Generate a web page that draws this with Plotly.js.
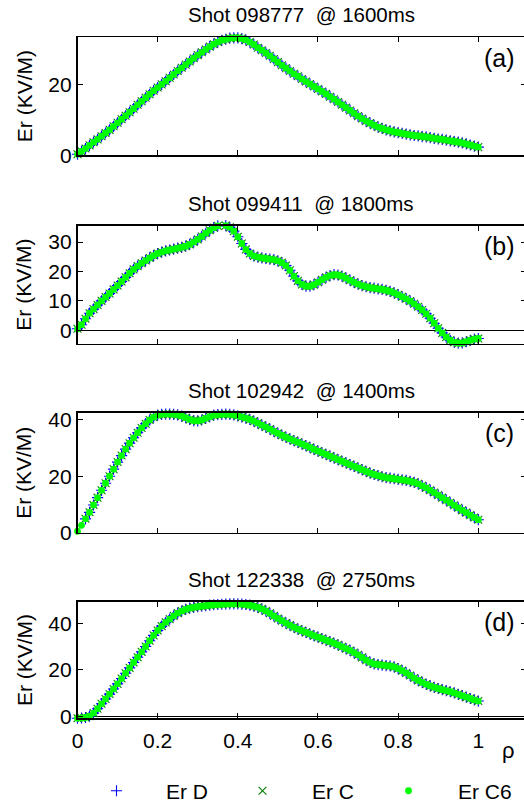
<!DOCTYPE html>
<html><head><meta charset="utf-8">
<script src="https://cdn.plot.ly/plotly-3.0.1.min.js"></script>
<style>html,body{margin:0;padding:0;overflow:hidden;background:#fff}</style>
</head><body><div id="chart"></div>
<script>
// ---- data ----
const rho = [0,0.01,0.02,0.03,0.04,0.05,0.06,0.07,0.08,0.09,
  0.10,0.11,0.12,0.13,0.14,0.15,0.16,0.17,0.18,0.19,
  0.20,0.21,0.22,0.23,0.24,0.25,0.26,0.27,0.28,0.29,
  0.30,0.31,0.32,0.33,0.34,0.35,0.36,0.37,0.38,0.39,
  0.40,0.41,0.42,0.43,0.44,0.45,0.46,0.47,0.48,0.49,
  0.50,0.51,0.52,0.53,0.54,0.55,0.56,0.57,0.58,0.59,
  0.60,0.61,0.62,0.63,0.64,0.65,0.66,0.67,0.68,0.69,
  0.70,0.71,0.72,0.73,0.74,0.75,0.76,0.77,0.78,0.79,
  0.80,0.81,0.82,0.83,0.84,0.85,0.86,0.87,0.88,0.89,
  0.90,0.91,0.92,0.93,0.94,0.95,0.96,0.97,0.98,0.99,1.00];

const er098777 = [0.3,1.1,1.9,2.8,3.7,4.5,5.4,6.3,7.2,8.2,
  9.2,10.2,11.2,12.2,13.2,14.3,15.3,16.3,17.3,18.3,
  19.2,20.1,21.0,22.0,22.9,23.9,24.8,25.7,26.6,27.5,
  28.4,29.2,30.0,30.8,31.5,32.1,32.6,32.9,33.2,33.3,
  33.3,33.1,32.7,32.1,31.4,30.5,29.8,29.0,28.2,27.3,
  26.4,25.5,24.7,23.9,23.1,22.4,21.6,20.9,20.2,19.5,
  18.8,18.1,17.4,16.6,15.9,15.1,14.3,13.5,12.7,11.9,
  11.1,10.4,9.7,9.1,8.5,8.0,7.6,7.2,6.9,6.6,
  6.4,6.2,6.0,5.8,5.6,5.5,5.3,5.2,5.0,4.8,
  4.6,4.5,4.3,4.1,3.9,3.7,3.5,3.2,2.9,2.6,2.3];

const er099411 = [0.5,1.9,3.9,5.8,7.2,8.6,10.0,11.3,12.5,13.9,
  15.2,16.6,18.0,19.4,20.7,21.8,22.8,23.7,24.6,25.4,
  26.1,26.6,27.0,27.3,27.6,27.9,28.2,28.6,29.2,30.0,
  30.9,31.9,33.0,34.0,34.9,35.5,35.8,35.6,35.0,33.7,
  31.8,29.5,27.5,26.1,25.3,24.9,24.6,24.4,24.2,24.0,
  23.6,23.0,22.0,20.4,18.4,16.8,15.6,15.0,15.0,15.5,
  16.3,17.2,18.0,18.6,18.9,18.8,18.4,17.7,17.0,16.3,
  15.7,15.2,14.8,14.5,14.3,14.1,13.9,13.6,13.2,12.7,
  12.1,11.4,10.7,9.9,9.0,8.0,6.9,5.6,4.1,2.4,
  0.7,-0.9,-2.3,-3.4,-4.1,-4.4,-4.3,-3.9,-3.4,-3.0,-2.8];

const er102942 = [0.5,2.6,4.9,7.2,9.8,12.4,15.0,17.5,20.0,22.5,
  25.0,27.3,29.6,31.7,33.6,35.4,37.1,38.6,39.9,40.9,
  41.6,41.9,42.0,42.0,41.9,41.7,41.3,40.7,40.1,39.7,
  39.6,39.9,40.5,41.1,41.6,41.8,41.9,42.0,41.9,41.7,
  41.4,41.0,40.6,40.1,39.5,38.8,38.1,37.4,36.7,35.9,
  35.2,34.5,33.8,33.2,32.6,32.0,31.4,30.8,30.2,29.5,
  28.9,28.3,27.7,27.1,26.5,25.9,25.3,24.7,24.1,23.5,
  22.9,22.3,21.7,21.1,20.6,20.2,19.8,19.5,19.3,19.1,
  18.9,18.7,18.5,18.2,17.8,17.3,16.6,15.9,15.0,14.2,
  13.3,12.4,11.5,10.6,9.7,8.8,7.9,7.1,6.2,5.4,4.6];

const er122338 = [-0.8,-0.7,-0.5,0.1,1.4,3.3,5.4,7.5,9.6,11.8,
  14.0,16.3,18.6,20.9,23.2,25.5,27.8,30.1,32.6,34.9,
  37.0,38.9,40.5,41.9,43.3,44.5,45.4,46.1,46.6,47.0,
  47.3,47.5,47.7,47.9,48.1,48.2,48.3,48.4,48.5,48.5,
  48.5,48.4,48.2,47.9,47.5,47.0,46.3,45.4,44.4,43.3,
  42.2,41.2,40.2,39.3,38.4,37.6,36.9,36.2,35.5,34.8,
  34.1,33.5,32.8,32.2,31.5,30.8,30.0,29.2,28.4,27.5,
  26.5,25.4,24.2,23.3,22.6,22.3,22.1,21.9,21.7,21.3,
  20.6,19.7,18.7,17.6,16.5,15.5,14.6,13.8,13.1,12.5,
  12.0,11.5,11.1,10.6,10.1,9.5,8.9,8.3,7.7,7.1,6.6];

const panelData = [er098777, er099411, er102942, er122338];
const shotTitles = ['Shot 098777  @ 1600ms', 'Shot 099411  @ 1800ms',
                    'Shot 102942  @ 1400ms', 'Shot 122338  @ 2750ms'];
const panelLabels = ['(a)', '(b)', '(c)', '(d)'];
const seriesNames = ['Er D', 'Er C', 'Er C6'];
const firstDCIndex = [0, 0, 2, 0];   // Er D / Er C start later than Er C6 in (c)
const xTickVals = [0, 0.2, 0.4, 0.6, 0.8, 1];
const xTickText = ['0', '0.2', '0.4', '0.6', '0.8', '1'];
const yTickVals = [[0, 20], [0, 10, 20, 30], [0, 20, 40], [0, 20, 40]];
const yRanges = [[0, 33.5], [-4.6, 35.6], [0, 42.4], [-0.9, 49.4]];
const yAxisTitle = 'Er (KV/M)';
const xAxisTitle = 'ρ';

// ---- layout geometry ----
const W = 526, H = 812;
const plotLeft = 77.5, pxPerRho = 400.8;
const panelTop = [37.3, 226.7, 415, 604.7];
const panelBottom = [156, 345.5, 535.3, 722];
const FONT = 'Liberation Sans, Arial, Helvetica, sans-serif';

const styles = [
  {symbol: 'cross-thin', size: 8, color: '#0000ff', line: {color: '#0000ff', width: 1.1}},
  {symbol: 'x-thin', size: 7.8, color: '#008000', line: {color: '#008000', width: 1.1}},
  {symbol: 'circle', size: 6.8, color: '#00ff00', line: {width: 0}}
];

const traces = [];
const layout = {
  width: W, height: H,
  margin: {l: 0, r: 0, t: 0, b: 0},
  paper_bgcolor: '#fff', plot_bgcolor: '#fff',
  font: {family: FONT, size: 21, color: '#000'},
  showlegend: true,
  legend: {
    orientation: 'h', x: 67 / W, xanchor: 'left', y: 1 - 795 / H, yanchor: 'middle',
    itemwidth: 89,
    font: {family: FONT, size: 21, color: '#000'}, bgcolor: 'rgba(0,0,0,0)',
    traceorder: 'normal'
  },
  annotations: []
};

panelData.forEach((vals, p) => {
  const n = p === 0 ? '' : String(p + 1);
  seriesNames.forEach((name, s) => {
    const yv = vals.map((v, i) => (s < 2 && i < firstDCIndex[p]) ? null : v);
    traces.push({
      type: 'scatter', mode: 'markers', name: name,
      x: rho, y: yv, xaxis: 'x' + n, yaxis: 'y' + n,
      marker: styles[s], showlegend: p === 0, cliponaxis: false, hoverinfo: 'skip'
    });
  });
  const axCommon = {
    showline: true, linecolor: '#000', linewidth: 1.6, mirror: 'ticks',
    ticks: 'inside', ticklen: 5, tickwidth: 1, tickcolor: '#000',
    showgrid: false, fixedrange: true,
    tickfont: {family: FONT, size: 21, color: '#000'}
  };
  layout['xaxis' + n] = Object.assign({}, axCommon, {
    domain: [plotLeft / W, 1], range: [0, (W - plotLeft) / pxPerRho],
    anchor: 'y' + n, zeroline: false,
    tickmode: 'array', tickvals: xTickVals, ticktext: xTickText,
    showticklabels: p === 3, ticklabelstandoff: 3
  });
  layout['yaxis' + n] = Object.assign({}, axCommon, {
    domain: [1 - panelBottom[p] / H, 1 - panelTop[p] / H], range: yRanges[p],
    anchor: 'x' + n, zeroline: true, zerolinecolor: '#000', zerolinewidth: 1,
    tickmode: 'array', tickvals: yTickVals[p]
  });
  const mid = (panelTop[p] + panelBottom[p]) / 2;
  layout.annotations.push(
    {text: shotTitles[p], xref: 'paper', yref: 'paper', x: 301 / W, y: 1 - (panelTop[p] - 22.5) / H,
     xanchor: 'center', yanchor: 'middle', showarrow: false, font: {family: FONT, size: 20.5, color: '#000'}},
    {text: yAxisTitle, xref: 'paper', yref: 'paper', x: 24 / W, y: 1 - mid / H, textangle: -90,
     xanchor: 'center', yanchor: 'middle', showarrow: false, font: {family: FONT, size: 21, color: '#000'}},
    {text: panelLabels[p], xref: 'paper', yref: 'paper', x: 499 / W, y: 1 - (panelTop[p] + 20.5) / H,
     xanchor: 'center', yanchor: 'middle', showarrow: false, font: {family: FONT, size: 25, color: '#000'}}
  );
});
layout.annotations.push({text: xAxisTitle, xref: 'paper', yref: 'paper', x: 508 / W, y: 1 - 740 / H,
  xanchor: 'center', yanchor: 'top', showarrow: false, font: {family: FONT, size: 22, color: '#000'}});

Plotly.newPlot('chart', traces, layout, {staticPlot: true, displayModeBar: false});
</script></body></html>
